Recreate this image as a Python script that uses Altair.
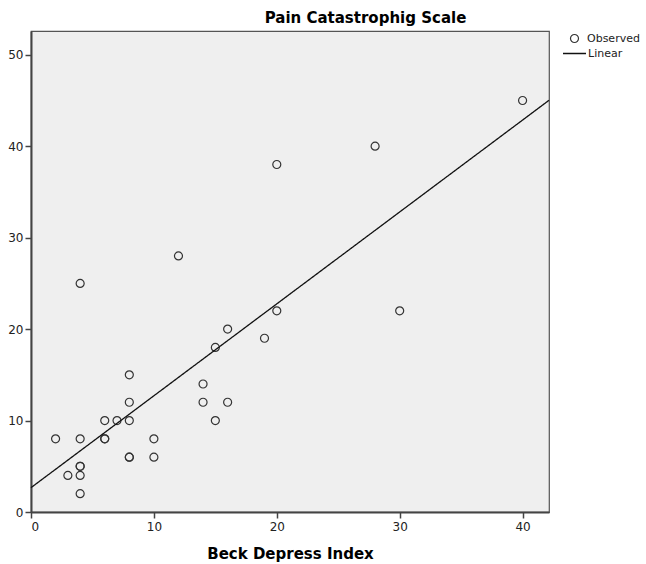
import altair as alt
import pandas as pd

beck = [2, 3, 4, 4, 4, 4, 4, 4, 6, 6, 6, 7, 8, 8, 8, 8, 8, 10, 10, 12,
        14, 14, 15, 15, 16, 16, 19, 20, 20, 28, 30, 40]
pain = [8, 4, 8, 5, 5, 4, 2, 25, 10, 8, 8, 10, 15, 12, 10, 6, 6, 8, 6, 28,
        14, 12, 18, 10, 20, 12, 19, 22, 38, 40, 22, 45]
series_labels = ["Observed", "Linear"]
x_ticks = [0, 10, 20, 30, 40]
y_ticks = [0, 10, 20, 30, 40, 50]
x_max = 42.15
y_max = 52.6

df = pd.DataFrame({"beck": beck, "pain": pain, "obs": series_labels[0]})

FONT = "DejaVu Sans"
x_scale = alt.Scale(domain=[0, x_max], nice=False, zero=False)
y_scale = alt.Scale(domain=[0, y_max], nice=False)

x_axis = alt.Axis(
    title="Beck Depress Index", values=x_ticks, grid=False,
    tickSize=6, tickWidth=1.5, tickColor="#444",
    domainWidth=2, domainColor="#444",
    labelFont=FONT, labelFontSize=12, labelColor="#222", labelPadding=3,
    titleFont=FONT, titleFontSize=15, titleFontWeight="bold", titleColor="#000",
    titleY=46, titleBaseline="alphabetic",
)
y_axis = alt.Axis(
    title="Pain Catastrophig Scale", values=y_ticks, grid=False,
    tickSize=6, tickWidth=1.5, tickColor="#444",
    domainWidth=2, domainColor="#444",
    labelFont=FONT, labelFontSize=12, labelColor="#222", labelPadding=2,
    titleFont=FONT, titleFontSize=15, titleFontWeight="bold", titleColor="#000",
    titleAngle=0, titleX=334, titleY=-9, titleAlign="center", titleBaseline="alphabetic",
)

base = alt.Chart(df)

points = base.mark_point(
    filled=False, size=64, strokeWidth=1.2, color="#333", opacity=1
).encode(
    x=alt.X("beck:Q", scale=x_scale, axis=x_axis),
    y=alt.Y("pain:Q", scale=y_scale, axis=y_axis),
    shape=alt.Shape(
        "obs:N",
        scale=alt.Scale(domain=[series_labels[0]], range=["circle"]),
        legend=alt.Legend(
            title=None, orient="none", legendX=538, legendY=2, padding=0,
            symbolSize=64, symbolStrokeColor="#333", symbolFillColor="transparent",
            symbolStrokeWidth=1.2, labelFont=FONT, labelFontSize=11,
            labelColor="#222", labelOffset=7,
        ),
    ),
)

line = base.transform_regression(
    "beck", "pain", extent=[0, x_max]
).transform_calculate(fit="'Linear'").mark_line(
    color="#111", strokeWidth=1.3
).encode(
    x=alt.X("beck:Q", scale=x_scale),
    y=alt.Y("pain:Q", scale=y_scale),
    strokeDash=alt.StrokeDash(
        "fit:N",
        scale=alt.Scale(domain=[series_labels[1]], range=[[1, 0]]),
        legend=alt.Legend(
            title=None, orient="none", legendX=531, legendY=10, padding=0,
            symbolType="stroke", symbolSize=529, symbolStrokeColor="#111",
            symbolStrokeWidth=1.3, labelFont=FONT, labelFontSize=11,
            labelColor="#222", labelOffset=1,
        ),
    ),
)

chart = alt.layer(points, line).properties(
    width=518, height=481,
    autosize=alt.AutoSizeParams(type="none"),
    padding={"left": 31, "top": 31, "right": 97, "bottom": 52},
).configure(font=FONT).configure_view(
    fill="#efefef", stroke="#555", strokeWidth=1.2
).resolve_legend(shape="independent", strokeDash="independent")

chart.save("out.html", embed_options={"renderer": "svg", "actions": False})
